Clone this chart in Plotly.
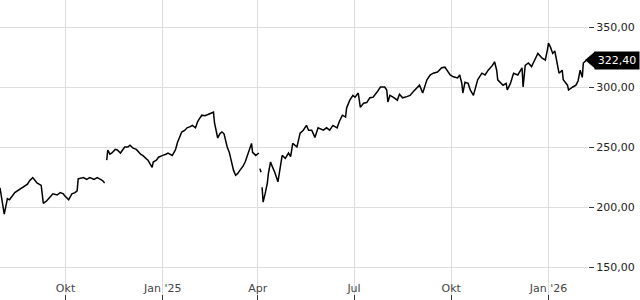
import plotly.graph_objects as go

dates = [
    "2024-07-31", "2024-08-02", "2024-08-04", "2024-08-07", "2024-08-09", "2024-08-14", "2024-08-19",
    "2024-08-23", "2024-08-26", "2024-08-28", "2024-08-31", "2024-09-04", "2024-09-08", "2024-09-10",
    "2024-09-13", "2024-09-16", "2024-09-19", "2024-09-23", "2024-09-26", "2024-09-29", "2024-09-30",
    "2024-10-04", "2024-10-07", "2024-10-10", "2024-10-12", "2024-10-13", "2024-10-18", "2024-10-21",
    "2024-10-24", "2024-10-28", "2024-10-31", "2024-11-03", "2024-11-05", "2024-11-07",
    "2024-11-08",
    "2024-11-09", "2024-11-10", "2024-11-12", "2024-11-14", "2024-11-17", "2024-11-19", "2024-11-22",
    "2024-11-24", "2024-11-26", "2024-11-29", "2024-12-01", "2024-12-04", "2024-12-07", "2024-12-09",
    "2024-12-11", "2024-12-13", "2024-12-16", "2024-12-18", "2024-12-20", "2024-12-22", "2024-12-23",
    "2024-12-26", "2024-12-28", "2024-12-29", "2025-01-01", "2025-01-04", "2025-01-06", "2025-01-10",
    "2025-01-13", "2025-01-15", "2025-01-17", "2025-01-19", "2025-01-22", "2025-01-24", "2025-01-27",
    "2025-01-29", "2025-02-01", "2025-02-03", "2025-02-05", "2025-02-07", "2025-02-10", "2025-02-13",
    "2025-02-15", "2025-02-18", "2025-02-19", "2025-02-21", "2025-02-22", "2025-02-24", "2025-02-26",
    "2025-02-28", "2025-03-03", "2025-03-05", "2025-03-07", "2025-03-09", "2025-03-11", "2025-03-13",
    "2025-03-15", "2025-03-18", "2025-03-20", "2025-03-23", "2025-03-26", "2025-03-27", "2025-03-30",
    "2025-04-02",
    "2025-04-02 12:00",
    "2025-04-03", "2025-04-04",
    "2025-04-04 12:00",
    "2025-04-05", "2025-04-06", "2025-04-08", "2025-04-10", "2025-04-11", "2025-04-13", "2025-04-15",
    "2025-04-17", "2025-04-20", "2025-04-22", "2025-04-24", "2025-04-27", "2025-04-30", "2025-05-02",
    "2025-05-04", "2025-05-08", "2025-05-11", "2025-05-14", "2025-05-17", "2025-05-19", "2025-05-22",
    "2025-05-25", "2025-05-28", "2025-06-02", "2025-06-05", "2025-06-08", "2025-06-11", "2025-06-15",
    "2025-06-17", "2025-06-20", "2025-06-23", "2025-06-24", "2025-06-27", "2025-06-30", "2025-07-02",
    "2025-07-05", "2025-07-07", "2025-07-10", "2025-07-13", "2025-07-16", "2025-07-19", "2025-07-23",
    "2025-07-26", "2025-07-30", "2025-08-01", "2025-08-02", "2025-08-04", "2025-08-07", "2025-08-11",
    "2025-08-13", "2025-08-16", "2025-08-20", "2025-08-23", "2025-08-26", "2025-08-30", "2025-09-01",
    "2025-09-04", "2025-09-06", "2025-09-08", "2025-09-11", "2025-09-14", "2025-09-18", "2025-09-22",
    "2025-09-25", "2025-09-27", "2025-09-30", "2025-10-03", "2025-10-07", "2025-10-09", "2025-10-11",
    "2025-10-12", "2025-10-14", "2025-10-17", "2025-10-19", "2025-10-22", "2025-10-24", "2025-10-26",
    "2025-10-30", "2025-11-02", "2025-11-05", "2025-11-09", "2025-11-11", "2025-11-13", "2025-11-14",
    "2025-11-17", "2025-11-19", "2025-11-22", "2025-11-23", "2025-11-26", "2025-11-29", "2025-12-03",
    "2025-12-07", "2025-12-08", "2025-12-10", "2025-12-13", "2025-12-16", "2025-12-19", "2025-12-22",
    "2025-12-26", "2025-12-29", "2025-12-31", "2026-01-01", "2026-01-03", "2026-01-05", "2026-01-07",
    "2026-01-09", "2026-01-11", "2026-01-14", "2026-01-15", "2026-01-19", "2026-01-20", "2026-01-24",
    "2026-01-27", "2026-01-29", "2026-01-31", "2026-02-02", "2026-02-03", "2026-02-06",
]

prices = [
    216, 205, 194, 207, 206, 212, 215,
    217, 219, 222, 224.5, 220, 218, 203,
    205, 208, 211, 210, 212, 211, 209.5,
    206, 211, 212, 213.5, 223.5, 224.5, 223,
    224.5, 223, 224.5, 223, 222, 220,
    None,
    239, 247.5, 244, 245, 248, 247.5, 245,
    248, 250, 250, 251.5, 249, 248, 246,
    244, 243, 241, 239, 236, 233, 237.5,
    239, 241.5, 242, 243, 244, 245, 243,
    247.5, 254, 259, 262.5, 264, 266, 267,
    268, 266, 271, 274, 276.5, 276, 277,
    278, 279, 270, 262.5, 257.5, 261, 262.5,
    261, 250, 245.5, 239, 230.5, 226.5, 228,
    230.5, 234, 237.5, 245, 253, 245.5, 243,
    245,
    None,
    232, 229,
    None,
    216.5, 204, 211.5, 220, 228, 237.5, 233,
    229, 221, 232, 243, 240.5, 245, 242,
    253, 250, 261.5, 264, 268, 264, 264,
    258, 266, 264, 266, 264, 268, 266,
    271, 276.5, 275, 282.5, 289, 293, 291.5,
    295, 283, 286.5, 287, 291, 291.5, 296,
    300, 300, 297.5, 287.5, 293, 291.5, 289,
    294, 291, 292, 293, 296, 300, 301.5,
    295, 301.5, 306, 310, 311.5, 312.5, 316,
    316.5, 314, 310, 308.5, 307.5, 310, 303,
    295, 304, 303, 297.5, 293, 300, 306,
    311.5, 310, 314, 318, 321, 314, 306,
    303, 301.5, 303, 297.5, 303, 311.5, 310,
    316, 300, 318, 320, 317, 322.5, 328,
    324, 322.5, 331, 336.5, 333, 328, 330,
    320, 311.5, 314, 306, 301.5, 297.5, 300,
    301.5, 305, 314, 308, 320, 322.40,
]

tick_dates = ["2024-10-01", "2025-01-01", "2025-04-01", "2025-07-01", "2025-10-01", "2026-01-01"]
tick_labels = ["Okt", "Jan '25", "Apr", "Jul", "Okt", "Jan '26"]
y_ticks = [150, 200, 250, 300, 350]

x_range = ["2024-07-31", "2026-02-07 10:00"]
y_range = [122.5, 372.5]

fig = go.Figure()
fig.add_trace(go.Scatter(
    x=dates, y=prices, mode="lines",
    line=dict(color="black", width=1.5),
    connectgaps=False, hoverinfo="skip",
))

last = prices[-1]
ypap = (last - y_range[0]) / (y_range[1] - y_range[0])
plot_w = 588
plot_h = 300
tip_x = 585 / plot_w
base_x = 595 / plot_w
half_h = 8.5 / plot_h

fig.add_shape(
    type="path", xref="paper", yref="paper",
    path=f"M {tip_x},{ypap} L {base_x},{ypap + half_h} L {base_x},{ypap - half_h} Z",
    fillcolor="black", line=dict(width=0),
)
fig.add_annotation(
    xref="paper", yref="paper", x=594 / plot_w, y=ypap,
    xanchor="left", yanchor="middle",
    text=f"{last:.2f}".replace(".", ","),
    showarrow=False, bgcolor="black", borderpad=2, width=40,
    font=dict(color="white", size=11, family="DejaVu Sans"),
)

fig.update_layout(
    width=640, height=300,
    margin=dict(l=0, r=52, t=0, b=0),
    paper_bgcolor="white", plot_bgcolor="white",
    showlegend=False,
    separators=",.",
    font=dict(family="DejaVu Sans", size=11, color="#222222"),
    xaxis=dict(
        type="date", range=x_range,
        tickvals=tick_dates, ticktext=tick_labels,
        ticks="inside", ticklen=5, tickcolor="#333333",
        ticklabelposition="inside",
        showgrid=True, gridcolor="#dddddd", gridwidth=1,
        showline=False, zeroline=False,
    ),
    yaxis=dict(
        side="right", range=y_range,
        tickvals=y_ticks, tickformat=".2f",
        ticks="outside", ticklen=5, tickcolor="#333333",
        showgrid=True, gridcolor="#dddddd", gridwidth=1,
        showline=False, zeroline=False,
    ),
)

fig.write_html("out.html")
